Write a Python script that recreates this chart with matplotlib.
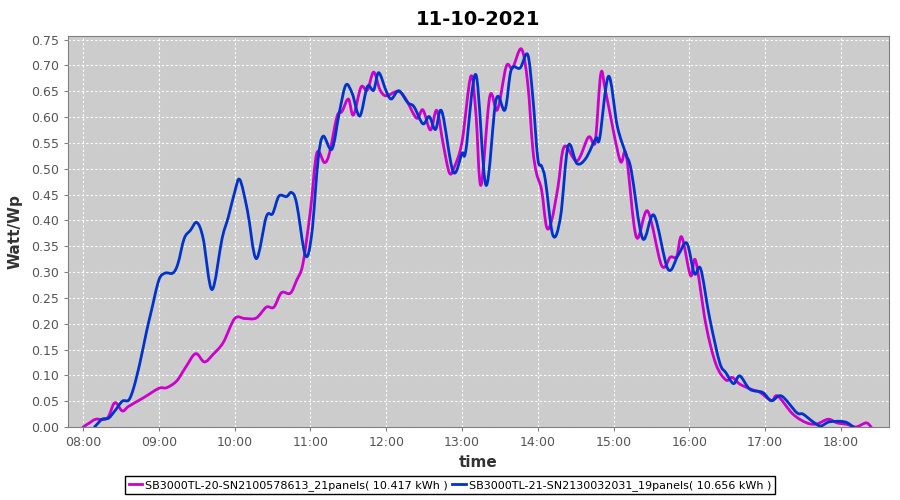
import pandas as pd
import matplotlib
matplotlib.use("Agg")
import matplotlib.pyplot as plt
import matplotlib.dates as mdates
from matplotlib.path import Path
from matplotlib.patches import PathPatch
from matplotlib.lines import Line2D

DAY = "2021-10-11"
TITLE = "11-10-2021"

label_a = "SB3000TL-20-SN2100578613_21panels( 10.417 kWh )"
time_a = ["08:00", "08:05", "08:10", "08:19", "08:25", "08:31", "08:36", "08:48", "09:00", "09:06",
          "09:14", "09:21", "09:29", "09:36", "09:43", "09:51", "10:00", "10:08", "10:17", "10:25",
          "10:31", "10:37", "10:44", "10:49", "10:54", "11:00", "11:05", "11:11", "11:15", "11:21",
          "11:25", "11:30", "11:34", "11:40", "11:45", "11:50", "11:55", "12:00", "12:09", "12:15",
          "12:24", "12:29", "12:35", "12:40", "12:45", "12:50", "12:54", "13:00", "13:07", "13:11",
          "13:15", "13:22", "13:28", "13:35", "13:40", "13:47", "13:52", "13:56", "13:59", "14:03",
          "14:07", "14:11", "14:16", "14:21", "14:31", "14:40", "14:44", "14:46", "14:50", "14:54",
          "15:05", "15:10", "15:18", "15:27", "15:38", "15:45", "15:50", "15:54", "16:01", "16:05",
          "16:13", "16:21", "16:29", "16:34", "16:40", "16:49", "16:56", "17:05", "17:10", "17:22",
          "17:33", "17:41", "17:50", "17:57", "18:05", "18:12", "18:20", "18:24"]
val_a = [0.000, 0.008, 0.015, 0.017, 0.047, 0.031, 0.040, 0.057, 0.075, 0.076,
         0.089, 0.115, 0.142, 0.126, 0.141, 0.164, 0.210, 0.210, 0.211, 0.232,
         0.232, 0.260, 0.259, 0.284, 0.316, 0.420, 0.530, 0.512, 0.530, 0.601,
         0.611, 0.635, 0.604, 0.658, 0.652, 0.687, 0.653, 0.641, 0.650, 0.637,
         0.598, 0.614, 0.575, 0.613, 0.549, 0.492, 0.504, 0.552, 0.679, 0.607,
         0.468, 0.640, 0.614, 0.698, 0.695, 0.732, 0.666, 0.540, 0.491, 0.459,
         0.387, 0.400, 0.465, 0.543, 0.515, 0.561, 0.549, 0.562, 0.685, 0.646,
         0.517, 0.527, 0.368, 0.418, 0.313, 0.329, 0.330, 0.368, 0.293, 0.322,
         0.200, 0.122, 0.091, 0.096, 0.083, 0.073, 0.067, 0.051, 0.060, 0.025,
         0.008, 0.006, 0.015, 0.008, 0.005, 0.000, 0.008, 0.000]

label_b = "SB3000TL-21-SN2130032031_19panels( 10.656 kWh )"
time_b = ["08:09", "08:15", "08:20", "08:25", "08:31", "08:36", "08:40", "08:45", "08:50", "08:54",
          "09:00", "09:05", "09:11", "09:15", "09:20", "09:25", "09:30", "09:35", "09:42", "09:50",
          "09:55", "10:00", "10:04", "10:10", "10:17", "10:25", "10:30", "10:35", "10:41", "10:45",
          "10:49", "10:56", "11:01", "11:06", "11:10", "11:17", "11:23", "11:28", "11:33", "11:39",
          "11:45", "11:50", "11:54", "12:00", "12:04", "12:10", "12:17", "12:22", "12:29", "12:34",
          "12:39", "12:44", "12:53", "13:00", "13:03", "13:11", "13:19", "13:27", "13:34", "13:39",
          "13:46", "13:52", "13:56", "14:00", "14:03", "14:06", "14:12", "14:18", "14:24", "14:31",
          "14:38", "14:46", "14:49", "14:56", "15:03", "15:10", "15:14", "15:23", "15:32", "15:43",
          "15:51", "15:58", "16:04", "16:09", "16:16", "16:24", "16:29", "16:35", "16:40", "16:48",
          "16:58", "17:05", "17:13", "17:25", "17:30", "17:38", "17:44", "17:51", "18:03", "18:10"]
val_b = [0.000, 0.015, 0.017, 0.031, 0.050, 0.052, 0.076, 0.125, 0.183, 0.225,
         0.285, 0.298, 0.298, 0.316, 0.365, 0.381, 0.396, 0.365, 0.266, 0.365,
         0.407, 0.455, 0.479, 0.420, 0.326, 0.407, 0.413, 0.447, 0.446, 0.454,
         0.433, 0.332, 0.374, 0.517, 0.563, 0.538, 0.611, 0.662, 0.646, 0.602,
         0.659, 0.652, 0.686, 0.650, 0.635, 0.651, 0.628, 0.620, 0.587, 0.601,
         0.576, 0.611, 0.494, 0.530, 0.535, 0.682, 0.468, 0.634, 0.614, 0.692,
         0.695, 0.721, 0.640, 0.520, 0.505, 0.478, 0.371, 0.407, 0.544, 0.510,
         0.520, 0.559, 0.559, 0.679, 0.582, 0.527, 0.497, 0.365, 0.410, 0.306,
         0.332, 0.356, 0.297, 0.306, 0.212, 0.125, 0.105, 0.084, 0.099, 0.073,
         0.067, 0.051, 0.060, 0.028, 0.025, 0.010, 0.002, 0.010, 0.010, 0.000]

color_a = "#cc00cc"
color_b = "#0033cc"


def to_num(times):
    return mdates.date2num(pd.to_datetime([f"{DAY} {t}" for t in times]))


def spline_path(xs, ys):
    # Catmull-Rom through the read points, drawn as cubic Bezier segments
    pts = list(zip(xs, ys))
    verts = [pts[0]]
    codes = [Path.MOVETO]
    n = len(pts)
    for i in range(n - 1):
        p0 = pts[max(i - 1, 0)]
        p1 = pts[i]
        p2 = pts[i + 1]
        p3 = pts[min(i + 2, n - 1)]
        c1 = (p1[0] + (p2[0] - p0[0]) / 6, p1[1] + (p2[1] - p0[1]) / 6)
        c2 = (p2[0] - (p3[0] - p1[0]) / 6, p2[1] - (p3[1] - p1[1]) / 6)
        verts += [c1, c2, p2]
        codes += [Path.CURVE4] * 3
    return Path(verts, codes)


fig = plt.figure(figsize=(9, 5), dpi=100)
ax = fig.add_axes([0.0756, 0.146, 0.912, 0.782])
ax.set_facecolor("#cccccc")

for times, vals, col in [(time_a, val_a, color_a), (time_b, val_b, color_b)]:
    patch = PathPatch(spline_path(to_num(times), vals), fill=False, edgecolor=col,
                      lw=2, capstyle="round", joinstyle="round")
    patch.set_clip_on(True)
    ax.add_patch(patch)

ax.xaxis_date()
ax.set_xlim(mdates.date2num(pd.Timestamp(f"{DAY} 07:48")),
            mdates.date2num(pd.Timestamp(f"{DAY} 18:38")))
ax.set_ylim(0, 0.757)
ax.set_yticks([i * 0.05 for i in range(16)])
ax.yaxis.set_major_formatter(plt.FormatStrFormatter("%.2f"))
ax.xaxis.set_major_locator(mdates.HourLocator())
ax.xaxis.set_major_formatter(mdates.DateFormatter("%H:%M"))

ax.grid(True, color="white", linestyle=(0, (2, 2)), linewidth=0.8)
ax.set_axisbelow(True)
for s in ax.spines.values():
    s.set_color("#808080")
ax.tick_params(labelsize=9, colors="#555555", length=3)
ax.tick_params(axis="both", color="#808080")

ax.set_title(TITLE, fontsize=14, fontweight="bold", pad=8)
ax.set_xlabel("time", fontsize=11, fontweight="bold", color="#333333", labelpad=4)
ax.set_ylabel("Watt/Wp", fontsize=11, fontweight="bold", color="#333333", labelpad=6)

handles = [Line2D([], [], color=color_a, lw=2), Line2D([], [], color=color_b, lw=2)]
fig.legend(handles, [label_a, label_b], loc="lower center", bbox_to_anchor=(0.5, 0.0),
           ncol=2, fontsize=8, frameon=True, fancybox=False, edgecolor="black",
           handlelength=1.2, handletextpad=0.3, columnspacing=0.4, borderpad=0.35,
           framealpha=1)

fig.savefig("out.png", dpi=100)
